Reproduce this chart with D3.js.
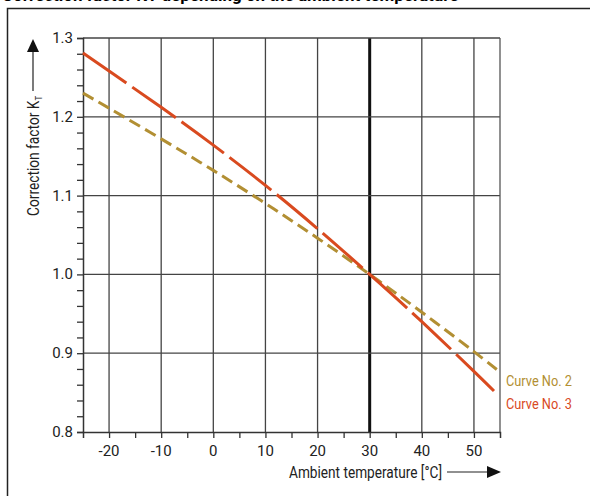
<!DOCTYPE html>
<html>
<head>
<meta charset="utf-8">
<script src="https://cdn.jsdelivr.net/npm/d3@7"></script>
<style>
  body { margin: 0; background: #fff; }
  svg text { font-family: "Roboto", "Liberation Sans", sans-serif; }
</style>
</head>
<body>
<div id="chart"></div>
<script>
const w = 590,
  h = 496;

// curve data
const temps2 = [-25, -20, -10, 0, 10, 20, 30, 40, 50, 55];
const curve2 = [1.23, 1.211, 1.172, 1.132, 1.09, 1.046, 1.0, 0.952, 0.902, 0.876];
const temps3 = [-25, -20, -10, 0, 10, 20, 30, 40, 50, 54];
const curve3 = [1.281, 1.258, 1.212, 1.164, 1.113, 1.058, 1.0, 0.94, 0.877, 0.851];

const xTicks = [-20, -10, 0, 10, 20, 30, 40, 50];
const xMinor = [-15, -5, 5, 15, 25, 35, 45];
const yTicks = [0.8, 0.9, 1.0, 1.1, 1.2, 1.3];
const curveNames = ["Curve No. 2", "Curve No. 3"];

const gold = "#b28f33",
  red = "#d94a1f";

const svg = d3.select("#chart").append("svg").attr("width", w).attr("height", h);

const translateFn = (x, y = 0) => `translate(${x}, ${y})`;

const x = d3.scaleLinear().domain([-25, 55]).range([83, 500]);
const y = d3.scaleLinear().domain([0.8, 1.3]).range([432, 38]);

// title (cut off at top in the original) and frame
svg
  .append("text")
  .attr("x", 2)
  .attr("y", 1)
  .style("font-weight", "bold")
  .style("font-size", "17px")
  .text("Correction factor KT depending on the ambient temperature");

svg
  .append("path")
  .attr("d", "M7.5," + h + "V8.5H" + w)
  .attr("fill", "none")
  .attr("stroke", "#222")
  .attr("stroke-width", 1.5);

// grid
const grid = svg.append("g");
grid
  .selectAll("line.v")
  .data(xTicks)
  .enter()
  .append("line")
  .attr("x1", (d) => x(d))
  .attr("x2", (d) => x(d))
  .attr("y1", y(1.3))
  .attr("y2", y(0.8))
  .attr("stroke", (d) => (d === 30 ? "#111" : "#444"))
  .attr("stroke-width", (d) => (d === 30 ? 3 : 1.3));

grid
  .selectAll("line.h")
  .data(yTicks.slice(1))
  .enter()
  .append("line")
  .attr("x1", x(-25))
  .attr("x2", x(55))
  .attr("y1", (d) => y(d))
  .attr("y2", (d) => y(d))
  .attr("stroke", "#444")
  .attr("stroke-width", 1.3);

// right border of plot
grid
  .append("line")
  .attr("x1", x(55))
  .attr("x2", x(55))
  .attr("y1", y(1.3))
  .attr("y2", y(0.8))
  .attr("stroke", "#555")
  .attr("stroke-width", 1.3);

// axes
const yAxis = d3
  .axisLeft(y)
  .tickValues(d3.range(0.8, 1.3001, 0.02))
  .tickSize(6)
  .tickFormat("");
const yg = svg.append("g").attr("transform", translateFn(x(-25), 0)).call(yAxis);

const xAxis = d3
  .axisBottom(x)
  .tickValues(xTicks.concat(xMinor))
  .tickSize(6)
  .tickFormat("");
const xg = svg.append("g").attr("transform", translateFn(0, y(0.8))).call(xAxis);

[yg, xg].forEach((g) => {
  g.select(".domain").attr("stroke", "#333").attr("stroke-width", 1.5);
  g.selectAll(".tick line").attr("stroke", "#333").attr("stroke-width", 1.3);
});

// tick labels
svg
  .selectAll("text.ylab")
  .data(yTicks)
  .enter()
  .append("text")
  .attr("x", 73)
  .attr("y", (d) => y(d) + 5)
  .attr("text-anchor", "end")
  .style("font-size", "15px")
  .style("fill", "#222")
  .text((d) => d.toFixed(1));

svg
  .selectAll("text.xlab")
  .data(xTicks)
  .enter()
  .append("text")
  .attr("x", (d) => x(d))
  .attr("y", 456)
  .attr("text-anchor", "middle")
  .style("font-size", "15px")
  .style("fill", "#222")
  .text((d) => d);

// curves
const line = d3
  .line()
  .x((d) => x(d[0]))
  .y((d) => y(d[1]))
  .curve(d3.curveNatural);

svg
  .append("path")
  .datum(temps2.map((t, i) => [t, curve2[i]]))
  .attr("d", line)
  .attr("fill", "none")
  .attr("stroke", gold)
  .attr("stroke-width", 3)
  .attr("stroke-dasharray", "12,6");

svg
  .append("path")
  .datum(temps3.map((t, i) => [t, curve3[i]]))
  .attr("d", line)
  .attr("fill", "none")
  .attr("stroke", red)
  .attr("stroke-width", 3)
  .attr("stroke-dasharray", "53,7");

// curve labels
svg
  .selectAll("text.cname")
  .data(curveNames)
  .enter()
  .append("text")
  .attr("x", 506)
  .attr("y", (d, i) => 386 + i * 23)
  .attr("textLength", 66)
  .attr("lengthAdjust", "spacingAndGlyphs")
  .style("font-size", "15px")
  .style("fill", (d, i) => (i === 0 ? gold : red))
  .text((d) => d);

// axis titles with arrows
const yt = svg
  .append("text")
  .attr("transform", translateFn(39, 216) + " rotate(-90)")
  .attr("textLength", 120)
  .attr("lengthAdjust", "spacingAndGlyphs")
  .style("font-size", "16px")
  .style("fill", "#222");
yt.append("tspan").text("Correction factor K");
yt.append("tspan").attr("dy", 3).style("font-size", "9px").text("T");

svg.append("line").attr("x1", 33).attr("x2", 33).attr("y1", 91).attr("y2", 50).attr("stroke", "#222").attr("stroke-width", 1.2);
svg.append("path").attr("d", "M33,39L27,52H39Z").attr("fill", "#111");

svg
  .append("text")
  .attr("x", 289)
  .attr("y", 478)
  .attr("textLength", 153)
  .attr("lengthAdjust", "spacingAndGlyphs")
  .style("font-size", "17px")
  .style("fill", "#222")
  .text("Ambient temperature [°C]");

svg.append("line").attr("x1", 447).attr("x2", 490).attr("y1", 472).attr("y2", 472).attr("stroke", "#222").attr("stroke-width", 1.2);
svg.append("path").attr("d", "M501,472L487,466V478Z").attr("fill", "#111");
</script>
</body>
</html>
